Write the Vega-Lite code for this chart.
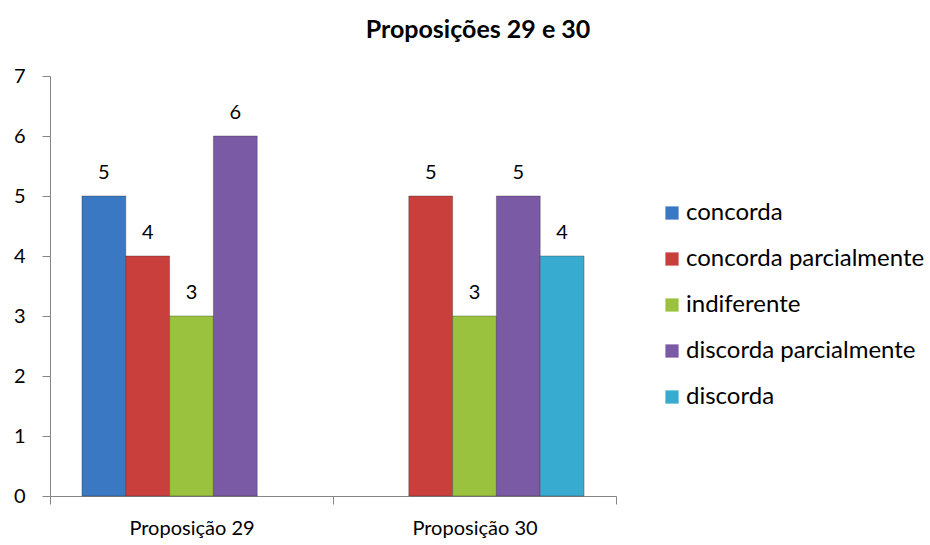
{
  "$schema": "https://vega.github.io/schema/vega-lite/v6.json",
  "width": 566,
  "height": 420,
  "padding": {"left": 13, "top": 18, "right": 5, "bottom": 5},
  "background": "white",
  "config": {
    "font": "Lato",
    "view": {"stroke": null}
  },
  "title": {
    "text": "Proposições 29 e 30",
    "fontSize": 25,
    "fontWeight": "bold",
    "font": "Lato",
    "color": "#000000",
    "anchor": "middle",
    "dx": 145,
    "offset": 23
  },
  "data": {
    "values": [
      {"prop": "Proposição 29", "resposta": "concorda", "n": 5},
      {"prop": "Proposição 29", "resposta": "concorda parcialmente", "n": 4},
      {"prop": "Proposição 29", "resposta": "indiferente", "n": 3},
      {"prop": "Proposição 29", "resposta": "discorda parcialmente", "n": 6},
      {"prop": "Proposição 30", "resposta": "concorda parcialmente", "n": 5},
      {"prop": "Proposição 30", "resposta": "indiferente", "n": 3},
      {"prop": "Proposição 30", "resposta": "discorda parcialmente", "n": 5},
      {"prop": "Proposição 30", "resposta": "discorda", "n": 4}
    ]
  },
  "encoding": {
    "x": {
      "field": "prop",
      "type": "nominal",
      "scale": {"paddingInner": 0, "paddingOuter": 0},
      "axis": {
        "title": null,
        "labelAngle": 0,
        "labelFontSize": 20,
        "labelColor": "#000000",
        "labelPadding": 14,
        "tickBand": "extent",
        "tickSize": 8,
        "tickColor": "#868686",
        "domainColor": "#868686",
        "grid": false
      }
    },
    "xOffset": {
      "field": "resposta",
      "type": "nominal",
      "scale": {
        "domain": ["concorda", "concorda parcialmente", "indiferente", "discorda parcialmente", "discorda"],
        "paddingInner": 0,
        "paddingOuter": 0.73
      }
    },
    "y": {
      "field": "n",
      "type": "quantitative",
      "scale": {"domain": [0, 7]},
      "axis": {
        "title": null,
        "values": [0, 1, 2, 3, 4, 5, 6, 7],
        "grid": false,
        "labelFontSize": 20,
        "labelColor": "#000000",
        "labelPadding": 17,
        "tickSize": 8,
        "tickColor": "#868686",
        "domainColor": "#868686"
      }
    }
  },
  "layer": [
    {
      "mark": {"type": "bar", "stroke": "#2b2b2b", "strokeOpacity": 0.35, "strokeWidth": 1},
      "encoding": {
        "color": {
          "field": "resposta",
          "type": "nominal",
          "scale": {
            "domain": ["concorda", "concorda parcialmente", "indiferente", "discorda parcialmente", "discorda"],
            "range": ["#3b78c4", "#c83f3b", "#9bc23f", "#7a59a5", "#38acd0"]
          },
          "legend": {
            "title": null,
            "orient": "none",
            "legendX": 610,
            "legendY": 125,
            "symbolType": "square",
            "symbolSize": 175,
            "symbolStrokeWidth": 0,
            "labelFontSize": 24,
            "labelColor": "#000000",
            "labelOffset": 2,
            "rowPadding": 22,
            "labelLimit": 400
          }
        }
      }
    },
    {
      "mark": {"type": "text", "dy": -13, "fontSize": 20, "color": "#000000", "baseline": "bottom"},
      "encoding": {
        "text": {"field": "n", "type": "quantitative"}
      }
    }
  ]
}
